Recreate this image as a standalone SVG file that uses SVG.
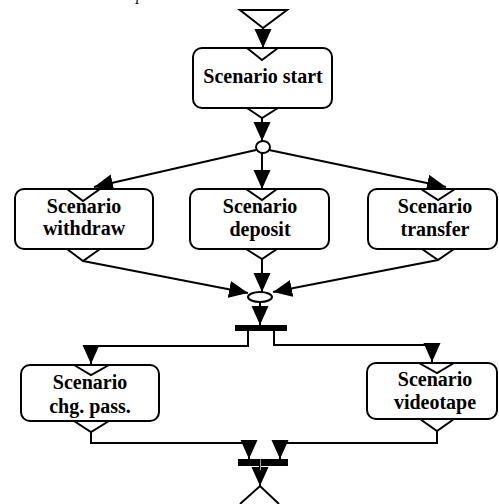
<svg xmlns="http://www.w3.org/2000/svg" width="499" height="504" viewBox="0 0 499 504">
  <style>
    .box { fill: #fff; stroke: #000; stroke-width: 2; }
    .notch { fill: none; stroke: #000; stroke-width: 2; stroke-linejoin: miter; }
    .lbl { font-family: "Liberation Serif", "Times New Roman", serif; font-weight: bold; font-size: 20px; text-anchor: middle; fill: #000; }
    .edge { fill: none; stroke: #000; stroke-width: 2; }
    .bar { fill: #000; }
    .state { fill: #fff; stroke: #000; stroke-width: 2; }
  </style>
  <defs>
    <marker id="arrow" markerUnits="userSpaceOnUse" markerWidth="20" markerHeight="18" refX="19" refY="9" orient="auto">
      <path d="M0,0.5 L19,9 L0,17.5 z" fill="#000"/>
    </marker>
  </defs>
  <rect width="499" height="504" fill="#fff"/>

  <!-- clipped caption fragment -->
  <text x="136" y="-0.5" font-family="Liberation Serif, serif" font-style="italic" font-size="16">p</text>

  <g id="connectors">
    <line class="edge" x1="263" y1="28" x2="263" y2="48" marker-end="url(#arrow)"/>
    <line class="edge" x1="262" y1="118" x2="262" y2="141" marker-end="url(#arrow)"/>
    <line class="edge" x1="256" y1="150" x2="94" y2="187" marker-end="url(#arrow)"/>
    <line class="edge" x1="262" y1="153" x2="262" y2="189" marker-end="url(#arrow)"/>
    <line class="edge" x1="269" y1="150" x2="446" y2="187" marker-end="url(#arrow)"/>
    <line class="edge" x1="83" y1="261" x2="248" y2="293" marker-end="url(#arrow)"/>
    <line class="edge" x1="262" y1="259" x2="262" y2="292" marker-end="url(#arrow)"/>
    <line class="edge" x1="438" y1="260" x2="273" y2="292" marker-end="url(#arrow)"/>
    <line class="edge" x1="260" y1="302" x2="260" y2="325" marker-end="url(#arrow)"/>
    <polyline class="edge" points="248,331 248,346 91,346 91,364" marker-end="url(#arrow)"/>
    <polyline class="edge" points="274,331 274,345 432,345 432,362" marker-end="url(#arrow)"/>
    <polyline class="edge" points="91,432 91,443 249,443 249,459" marker-end="url(#arrow)"/>
    <polyline class="edge" points="437,431 437,443 280,443 280,459" marker-end="url(#arrow)"/>
    <line class="edge" x1="260" y1="466" x2="260" y2="486" marker-end="url(#arrow)"/>
  </g>

  <g id="initial">
    <polygon class="notch" points="240,10 287,10 263,28"/>
  </g>

  <g id="scenario-start">
    <rect class="box" x="193" y="48" width="139" height="60" rx="9"/>
    <polyline class="notch" points="247,48 262,60 278,48"/>
    <polyline class="notch" points="247,108 262,118 278,108"/>
    <text class="lbl" x="263" y="83">Scenario start</text>
  </g>

  <g id="fork-branch">
    <ellipse class="state" cx="263" cy="147" rx="7" ry="6"/>
  </g>

  <g id="scenario-withdraw">
    <rect class="box" x="15" y="189" width="138" height="60" rx="9"/>
    <polyline class="notch" points="67,189 83,201 100,189"/>
    <polyline class="notch" points="67,249 83,261 100,249"/>
    <text class="lbl" x="84" y="213">Scenario</text>
    <text class="lbl" x="84" y="235">withdraw</text>
  </g>

  <g id="scenario-deposit">
    <rect class="box" x="190" y="189" width="139" height="60" rx="9"/>
    <polyline class="notch" points="246,189 262,200 277,189"/>
    <polyline class="notch" points="246,249 262,259 277,249"/>
    <text class="lbl" x="260" y="213">Scenario</text>
    <text class="lbl" x="260" y="236">deposit</text>
  </g>

  <g id="scenario-transfer">
    <rect class="box" x="368" y="189" width="129" height="60" rx="9"/>
    <polyline class="notch" points="421,189 438,200 455,189"/>
    <polyline class="notch" points="422,249 438,260 454,249"/>
    <text class="lbl" x="435" y="213">Scenario</text>
    <text class="lbl" x="435" y="236">transfer</text>
  </g>

  <g id="merge-branch">
    <ellipse class="state" cx="260" cy="297" rx="12" ry="5"/>
  </g>

  <g id="fork-bar">
    <rect class="bar" x="235" y="325" width="52" height="6"/>
  </g>

  <g id="scenario-chg-pass">
    <rect class="box" x="21" y="365" width="138" height="56" rx="9"/>
    <polyline class="notch" points="74,365 91,375 109,365"/>
    <polyline class="notch" points="74,421 91,432 109,421"/>
    <text class="lbl" x="90" y="389">Scenario</text>
    <text class="lbl" x="90" y="413">chg. pass.</text>
  </g>

  <g id="scenario-videotape">
    <rect class="box" x="367" y="363" width="130" height="56" rx="9"/>
    <polyline class="notch" points="419,363 437,373 454,363"/>
    <polyline class="notch" points="420,419 437,431 454,419"/>
    <text class="lbl" x="435" y="386">Scenario</text>
    <text class="lbl" x="435" y="409">videotape</text>
  </g>

  <g id="join-bar">
    <rect class="bar" x="238" y="459" width="50" height="7"/>
    <line x1="260.5" y1="459" x2="260.5" y2="470" stroke="#999" stroke-width="1"/>
  </g>

  <g id="final">
    <polyline class="notch" points="240,504 260,486 279,504"/>
  </g>
</svg>
